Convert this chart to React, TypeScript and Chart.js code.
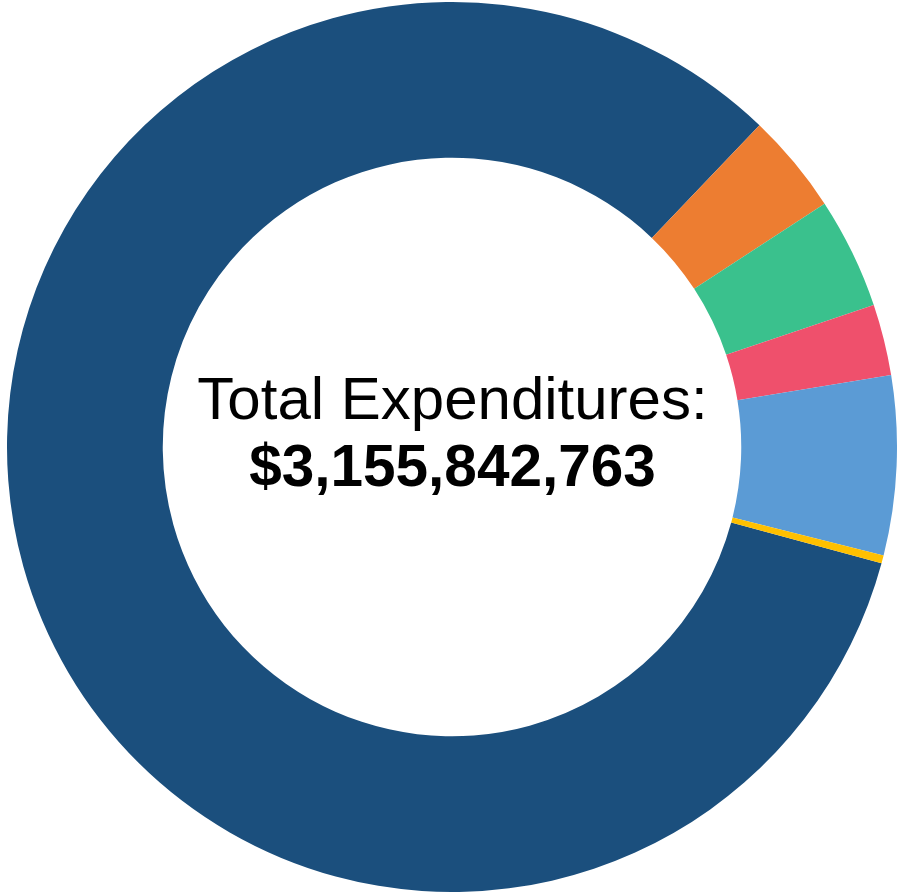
import React, { useEffect, useRef } from "react";
import { Chart, registerables } from "chart.js";

Chart.register(...registerables);

const categories = ["Category A", "Category B", "Category C", "Category D", "Category E", "Category F"];
const values = [2617160000, 115275000, 127550000, 81526000, 205130000, 9204000];
const colors = ["#1B4F7D", "#ED7D31", "#3AC18D", "#EF506C", "#5B9BD5", "#FFC000"];
const titleLine = "Total Expenditures:";
const totalLabel = "$3,155,842,763";

export default function App() {
  const ref = useRef<HTMLCanvasElement | null>(null);

  useEffect(() => {
    if (!ref.current) return;
    const chart = new Chart(ref.current, {
      type: "doughnut",
      data: {
        labels: categories,
        datasets: [
          {
            data: values,
            backgroundColor: colors,
            borderWidth: 0,
          },
        ],
      },
      options: {
        animation: false,
        responsive: true,
        maintainAspectRatio: false,
        cutout: "65%",
        rotation: 105.15,
        layout: { padding: 0 },
        plugins: {
          legend: { display: false },
          tooltip: { enabled: false },
        },
      },
    });
    return () => chart.destroy();
  }, []);

  const font = '"Liberation Sans", Arial, Helvetica, sans-serif';
  return (
    <div style={{ position: "fixed", left: 0, top: 0, width: 898, height: 893, background: "#fff" }}>
      <div style={{ position: "absolute", left: 7, top: 2, width: 890, height: 890 }}>
        <canvas ref={ref} />
      </div>
      <div
        style={{
          position: "absolute",
          left: 0,
          width: 905,
          top: 369,
          textAlign: "center",
          fontFamily: font,
          fontSize: 60,
          lineHeight: "60px",
          color: "#000",
          whiteSpace: "nowrap",
        }}
      >
        {titleLine}
      </div>
      <div
        style={{
          position: "absolute",
          left: 0,
          width: 905,
          top: 437,
          textAlign: "center",
          fontFamily: font,
          fontSize: 58.5,
          fontWeight: "bold",
          lineHeight: "58px",
          color: "#000",
          whiteSpace: "nowrap",
        }}
      >
        {totalLabel}
      </div>
    </div>
  );
}
